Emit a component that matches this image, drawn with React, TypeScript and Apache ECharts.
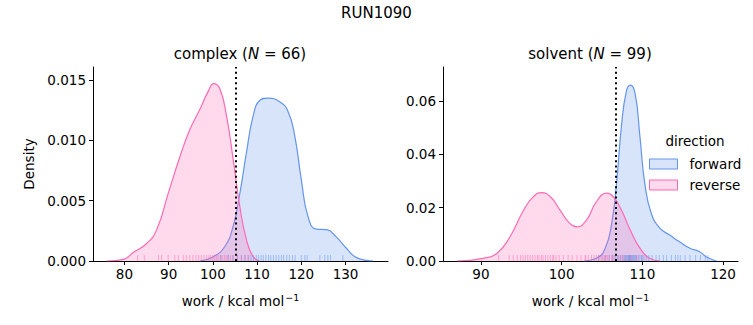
import React, { useEffect, useRef } from "react";
import * as echarts from "echarts";

// KDE curves: [work, density]
const complexReverseKde: [number, number][] = [
  [76.0, 0], [79.8, 0.00014], [82.0, 0.0007], [85.1, 0.00147], [87.3, 0.0026],
  [89.9, 0.0056], [92.6, 0.0087], [94.8, 0.0109], [97.1, 0.0126], [99.0, 0.0141],
  [100.2, 0.0147], [101.6, 0.01425], [103.1, 0.012], [104.6, 0.0084], [106.1, 0.0045],
  [107.6, 0.00175], [109.1, 0.00036], [110.6, 0],
];
const complexForwardKde: [number, number][] = [
  [97.1, 0], [100.1, 0.00036], [102.7, 0.0012], [104.6, 0.0029], [106.1, 0.0056],
  [107.6, 0.009], [109.1, 0.012], [110.6, 0.0133], [112.5, 0.0135], [115.1, 0.0132],
  [117.0, 0.0124], [118.5, 0.0104], [120.0, 0.00675], [121.5, 0.0037], [123.4, 0.00264],
  [125.7, 0.0026], [127.9, 0.002], [130.2, 0.00106], [132.5, 0.00028], [136.2, 0],
];
const solventReverseKde: [number, number][] = [
  [87.0, 0], [90.3, 0.001], [92.0, 0.0029], [93.6, 0.0091], [95.3, 0.0191],
  [96.5, 0.0241], [97.5, 0.0256], [98.6, 0.0241], [99.8, 0.0191], [101.0, 0.0141],
  [101.9, 0.0128], [103.1, 0.0154], [104.3, 0.0222], [105.6, 0.0254], [106.4, 0.0241],
  [107.4, 0.0191], [108.5, 0.0116], [109.7, 0.0048], [110.9, 0.001], [112.2, 0],
];
const solventForwardKde: [number, number][] = [
  [102.7, 0], [104.3, 0.001], [105.4, 0.0048], [106.2, 0.0141], [106.8, 0.0291],
  [107.4, 0.0503], [108.0, 0.0634], [108.5, 0.0659], [109.1, 0.0628], [109.7, 0.0466],
  [110.3, 0.0291], [111.1, 0.0179], [112.2, 0.0122], [113.4, 0.0097], [114.6, 0.0072],
  [115.9, 0.0048], [117.1, 0.0035], [117.9, 0.0016], [119.2, 0],
];

// Rug samples (work values)
const complexReverseRug = [
  83.0, 84.5, 87.7, 88.4, 89.9, 91.4, 92.2, 93.3, 94.0, 94.8, 95.5, 96.2, 96.8, 97.4,
  98.0, 98.6, 99.1, 99.5, 100.0, 100.4, 100.8, 101.2, 101.7, 102.1, 102.6, 103.0,
  103.4, 104.0, 104.6, 105.5, 106.4, 107.2, 108.0,
];
const complexForwardRug = [
  101.8, 103.5, 104.5, 105.6, 106.5, 107.3, 108.0, 108.6, 109.2, 109.8, 110.3, 110.9,
  111.4, 112.0, 112.6, 113.1, 113.7, 114.3, 114.9, 115.5, 116.0, 116.7, 117.3, 118.0,
  118.6, 120.0, 120.8, 121.3, 124.2, 125.3, 126.0, 126.6, 129.4,
];
const solventReverseRug = [
  92.2, 93.5, 94.0, 94.5, 94.9, 95.2, 95.5, 95.8, 96.1, 96.4, 96.7, 97.0, 97.2, 97.5,
  97.7, 98.0, 98.3, 98.6, 98.9, 99.0, 99.3, 99.7, 100.2, 100.8, 101.3, 101.9, 102.4,
  102.9, 103.0, 103.3, 103.7, 104.0, 104.3, 104.6, 104.9, 105.1, 105.3, 105.5, 105.7,
  105.9, 106.2, 106.4, 106.7, 107.0, 107.3, 107.6, 108.0, 108.6, 109.3,
];
const solventForwardRug = [
  104.6, 105.4, 105.9, 106.3, 106.6, 106.9, 107.1, 107.3, 107.5, 107.7, 107.8, 107.9,
  108.0, 108.1, 108.2, 108.3, 108.35, 108.4, 108.45, 108.5, 108.6, 108.7, 108.8, 108.9,
  109.0, 109.1, 109.2, 109.3, 109.5, 109.7, 109.9, 110.0, 110.2, 110.5, 110.8, 111.2,
  111.7, 112.1, 112.6, 113.0, 113.6, 114.1, 114.4, 114.7, 115.3, 115.9, 116.6, 117.2,
  117.8, 118.1,
];

const complexDeltaLine = 105.2;
const solventDeltaLine = 106.7;

const complexXTicks = [80, 90, 100, 110, 120, 130];
const solventXTicks = [90, 100, 110, 120];
const complexYTicks = [0, 0.005, 0.01, 0.015];
const solventYTicks = [0, 0.02, 0.04, 0.06];

const BLUE = "#6495ED";
const PINK = "#FF69B4";
const FONT = "DejaVu Sans";

export default function App() {
  const ref = useRef<HTMLDivElement>(null);
  useEffect(() => {
    if (!ref.current) return;
    const chart = echarts.init(ref.current, undefined, { renderer: "svg" });

    const xAxisBase = (gridIndex: number, min: number, max: number, ticks: number[]) => ({
      type: "value",
      gridIndex,
      min,
      max,
      splitLine: { show: false },
      axisLine: { show: true, onZero: false, lineStyle: { color: "#000", width: 1 } },
      axisTick: { show: true, length: 4, customValues: ticks, lineStyle: { color: "#000" } },
      axisLabel: {
        customValues: ticks,
        color: "#000",
        fontSize: 13.5,
        fontFamily: FONT,
        margin: 6,
      },
      name: "{a|work / kcal mol}{s|−1}",
      nameLocation: "middle",
      nameGap: 31,
      nameTextStyle: {
        rich: {
          a: { fontSize: 13.5, fontFamily: FONT, color: "#000" },
          s: { fontSize: 9.5, fontFamily: FONT, color: "#000", padding: [0, 0, 8, 1] },
        },
      },
    });

    const yAxisBase = (
      gridIndex: number,
      max: number,
      ticks: number[],
      digits: number,
      name: string
    ) => ({
      type: "value",
      gridIndex,
      min: 0,
      max,
      splitLine: { show: false },
      axisLine: { show: true, onZero: false, lineStyle: { color: "#000", width: 1 } },
      axisTick: { show: true, length: 4, customValues: ticks, lineStyle: { color: "#000" } },
      axisLabel: {
        customValues: ticks,
        color: "#000",
        fontSize: 13.5,
        fontFamily: FONT,
        margin: 7,
        formatter: (v: number) => v.toFixed(digits),
      },
      name,
      nameLocation: "middle",
      nameRotate: 90,
      nameGap: 57,
      nameTextStyle: { fontSize: 13.5, fontFamily: FONT, color: "#000" },
    });

    const kde = (name: string, data: [number, number][], color: string, idx: number, z: number) => ({
      type: "line",
      name,
      xAxisIndex: idx,
      yAxisIndex: idx,
      data,
      smooth: 0.5,
      showSymbol: false,
      symbol: "none",
      lineStyle: { color, width: 1.2 },
      itemStyle: { color },
      areaStyle: { color, opacity: 0.25 },
      z,
      silent: true,
    });

    const rug = (name: string, data: number[], color: string, idx: number) => ({
      type: "scatter",
      name,
      xAxisIndex: idx,
      yAxisIndex: idx,
      data: data.map((v) => [v, 0]),
      symbol: "rect",
      symbolSize: [1, 6],
      symbolOffset: [0, -3],
      itemStyle: { color, opacity: 0.5 },
      z: 4,
      silent: true,
    });

    const vline = (value: number, idx: number) => ({
      type: "line",
      name: "vline" + idx,
      xAxisIndex: idx,
      yAxisIndex: idx,
      data: [],
      markLine: {
        silent: true,
        symbol: "none",
        label: { show: false },
        lineStyle: { color: "#000", type: [2, 3.2], width: 2 },
        data: [{ xAxis: value }],
      },
      z: 6,
    });

    chart.setOption({
      animation: false,
      backgroundColor: "#fff",
      textStyle: { fontFamily: FONT },
      grid: [
        { left: 93, right: 365, top: 67, bottom: 64, containLabel: false },
        { left: 443, right: 15, top: 67, bottom: 64, containLabel: false },
      ],
      xAxis: [
        xAxisBase(0, 72.9, 139.6, complexXTicks),
        xAxisBase(1, 85.3, 121.85, solventXTicks),
      ],
      yAxis: [
        yAxisBase(0, 0.01608, complexYTicks, 3, "Density"),
        yAxisBase(1, 0.0727, solventYTicks, 2, ""),
      ],
      legend: {
        orient: "vertical",
        left: 644,
        top: 152,
        itemWidth: 28,
        itemHeight: 10,
        itemGap: 7,
        selectedMode: false,
        textStyle: { fontSize: 13.5, fontFamily: FONT, color: "#000", padding: [0, 0, 0, 7] },
        data: [
          {
            name: "forward",
            icon: "rect",
            itemStyle: { color: "rgba(100,149,237,0.25)", borderColor: BLUE, borderWidth: 1 },
          },
          {
            name: "reverse",
            icon: "rect",
            itemStyle: { color: "rgba(255,105,180,0.25)", borderColor: PINK, borderWidth: 1 },
          },
        ],
      },
      graphic: [
        {
          type: "text",
          left: "center",
          top: 5,
          style: { text: "RUN1090", fontSize: 15, fontFamily: FONT, fill: "#000" },
        },
        {
          type: "text",
          x: 240,
          y: 54,
          style: {
            text: "{a|complex (}{i|N}{a| = 66)}",
            align: "center",
            verticalAlign: "middle",
            rich: {
              a: { fontSize: 15, fontFamily: FONT, fill: "#000" },
              i: { fontSize: 15, fontFamily: FONT, fontStyle: "italic", fill: "#000" },
            },
          },
        },
        {
          type: "text",
          x: 590,
          y: 54,
          style: {
            text: "{a|solvent (}{i|N}{a| = 99)}",
            align: "center",
            verticalAlign: "middle",
            rich: {
              a: { fontSize: 15, fontFamily: FONT, fill: "#000" },
              i: { fontSize: 15, fontFamily: FONT, fontStyle: "italic", fill: "#000" },
            },
          },
        },
        {
          type: "text",
          x: 695,
          y: 141,
          style: {
            text: "direction",
            align: "center",
            verticalAlign: "middle",
            fontSize: 13.5,
            fontFamily: FONT,
            fill: "#000",
          },
        },
      ],
      series: [
        kde("forward", complexForwardKde, BLUE, 0, 2),
        kde("reverse", complexReverseKde, PINK, 0, 3),
        rug("forward rug", complexForwardRug, BLUE, 0),
        rug("reverse rug", complexReverseRug, PINK, 0),
        vline(complexDeltaLine, 0),
        kde("forward", solventForwardKde, BLUE, 1, 2),
        kde("reverse", solventReverseKde, PINK, 1, 3),
        rug("forward rug", solventForwardRug, BLUE, 1),
        rug("reverse rug", solventReverseRug, PINK, 1),
        vline(solventDeltaLine, 1),
      ],
    });
    return () => chart.dispose();
  }, []);
  return <div ref={ref} style={{ width: 753, height: 325, position: "absolute", left: 0, top: 0 }} />;
}
